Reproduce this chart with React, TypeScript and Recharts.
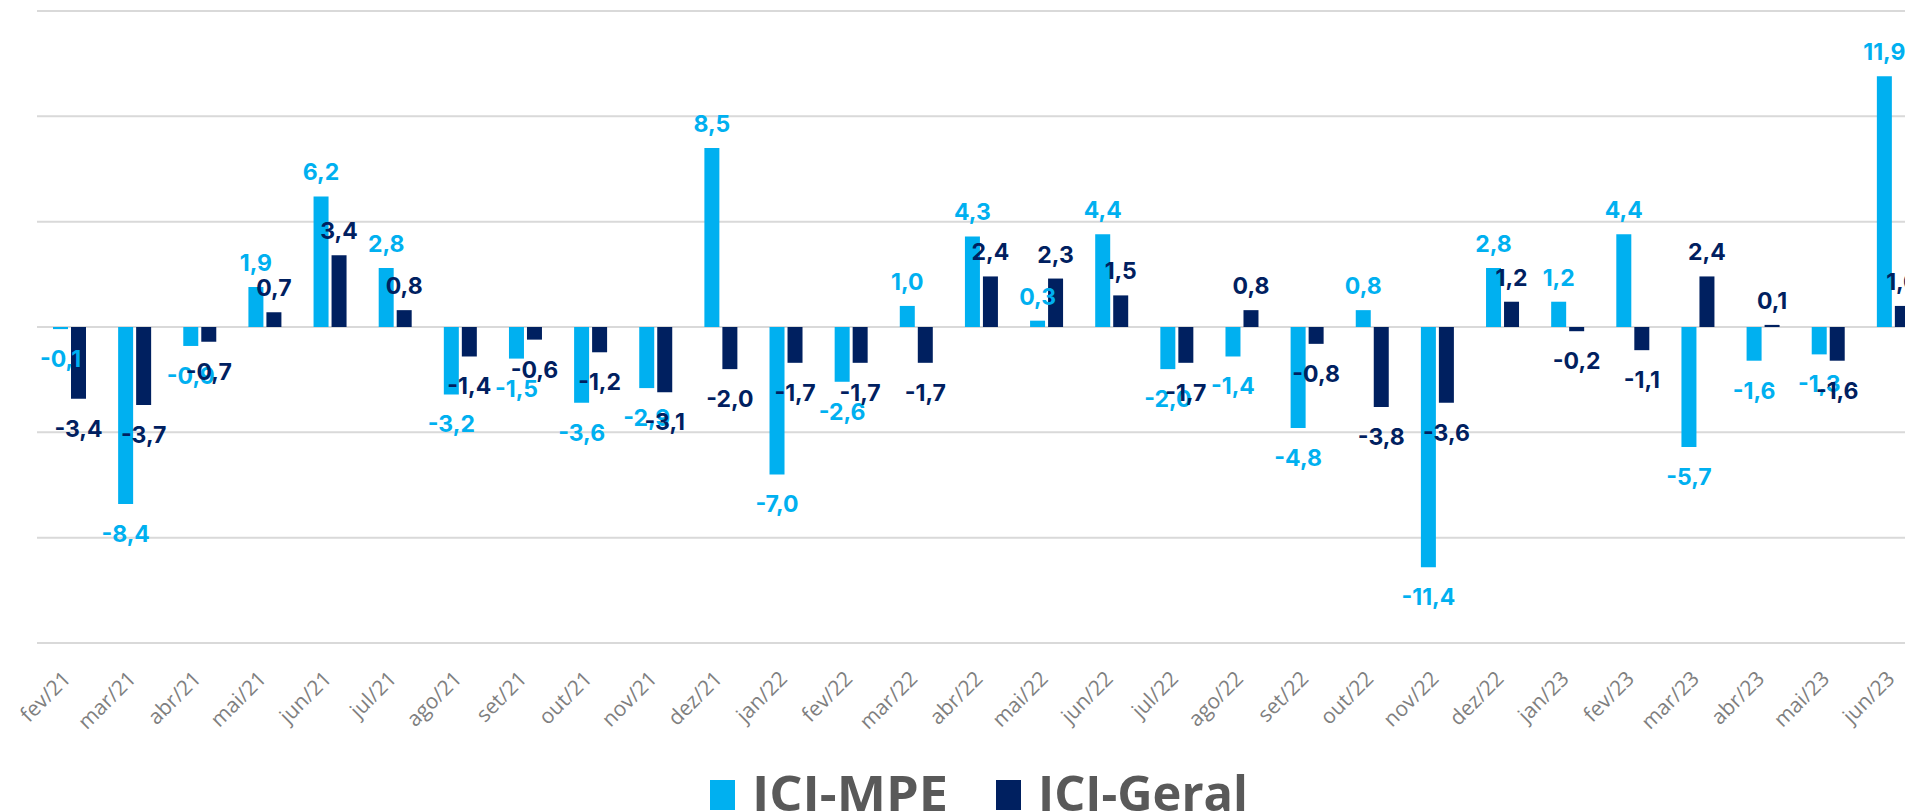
import { BarChart, Bar, XAxis, YAxis, CartesianGrid, LabelList } from 'recharts';

const months = [
  'fev/21', 'mar/21', 'abr/21', 'mai/21', 'jun/21', 'jul/21', 'ago/21', 'set/21', 'out/21', 'nov/21',
  'dez/21', 'jan/22', 'fev/22', 'mar/22', 'abr/22', 'mai/22', 'jun/22', 'jul/22', 'ago/22', 'set/22',
  'out/22', 'nov/22', 'dez/22', 'jan/23', 'fev/23', 'mar/23', 'abr/23', 'mai/23', 'jun/23',
];

const iciMpe = [
  -0.1, -8.4, -0.9, 1.9, 6.2, 2.8, -3.2, -1.5, -3.6, -2.9,
  8.5, -7.0, -2.6, 1.0, 4.3, 0.3, 4.4, -2.0, -1.4, -4.8,
  0.8, -11.4, 2.8, 1.2, 4.4, -5.7, -1.6, -1.3, 11.9,
];

const iciGeral = [
  -3.4, -3.7, -0.7, 0.7, 3.4, 0.8, -1.4, -0.6, -1.2, -3.1,
  -2.0, -1.7, -1.7, -1.7, 2.4, 2.3, 1.5, -1.7, 0.8, -0.8,
  -3.8, -3.6, 1.2, -0.2, -1.1, 2.4, 0.1, -1.6, 1.0,
];

const yTicks = [-15, -10, -5, 0, 5, 10, 15];

const MPE_COLOR = '#00B0F0';
const GERAL_COLOR = '#002060';

const data = months.map((m, i) => ({ month: m, mpe: iciMpe[i], geral: iciGeral[i] }));

const fmt = (v: number) => v.toFixed(1).replace('.', ',');

function makeLabel(color: string) {
  return (props: any) => {
    const { x, y, width, height, value } = props;
    const v = Number(value);
    const top = Math.min(y, y + height);
    const bottom = Math.max(y, y + height);
    const ty = v >= 0 ? top - 16 : bottom + 38;
    return (
      <text
        x={x + width / 2}
        y={ty}
        textAnchor="middle"
        fill={color}
        fontFamily="Inter, sans-serif"
        fontWeight={700}
        fontSize={23}
      >
        {fmt(v)}
      </text>
    );
  };
}

function MonthTick(props: any) {
  const { x, y, payload } = props;
  return (
    <g transform={`translate(${x + 2.5},${y + 37}) rotate(-45)`}>
      <text
        x={0}
        y={0}
        textAnchor="end"
        fill="#7f7f7f"
        fontFamily="'Open Sans', sans-serif"
        fontSize={21}
      >
        {payload.value}
      </text>
    </g>
  );
}

function LegendItem({ color, label, len }: { color: string; label: string; len: number }) {
  return (
    <g>
      <rect x={0} y={40} width={25} height={30} fill={color} />
      <text
        x={42}
        y={71}
        fill="#595959"
        fontFamily="'Open Sans', sans-serif"
        fontWeight={700}
        fontSize={49}
        textLength={len}
        lengthAdjust="spacingAndGlyphs"
      >
        {label}
      </text>
    </g>
  );
}

export default function App() {
  return (
    <div
      style={{
        position: 'absolute',
        left: 0,
        top: 0,
        width: 1905,
        height: 811,
        overflow: 'hidden',
        background: '#ffffff',
      }}
    >
      <BarChart
        width={1940}
        height={811}
        data={data}
        margin={{ top: 11, right: 14, bottom: 0, left: 37 }}
        barSize={15}
        barGap={3}
      >
        <CartesianGrid vertical={false} stroke="#d9d9d9" strokeWidth={2} />
        <XAxis
          dataKey="month"
          height={168}
          axisLine={false}
          tickLine={false}
          tickSize={0}
          tickMargin={0}
          interval={0}
          tick={<MonthTick />}
        />
        <YAxis hide domain={[-15, 15]} ticks={yTicks} />
        <Bar dataKey="mpe" name="ICI-MPE" fill={MPE_COLOR} isAnimationActive={false}>
          <LabelList dataKey="mpe" content={makeLabel(MPE_COLOR)} />
        </Bar>
        <Bar dataKey="geral" name="ICI-Geral" fill={GERAL_COLOR} isAnimationActive={false}>
          <LabelList dataKey="geral" content={makeLabel(GERAL_COLOR)} />
        </Bar>
      </BarChart>
      <svg
        width={600}
        height={100}
        style={{ position: 'absolute', left: 710, top: 740 }}
      >
        <LegendItem color={MPE_COLOR} label="ICI-MPE" len={196} />
        <g transform="translate(286,0)">
          <LegendItem color={GERAL_COLOR} label="ICI-Geral" len={210} />
        </g>
      </svg>
    </div>
  );
}
